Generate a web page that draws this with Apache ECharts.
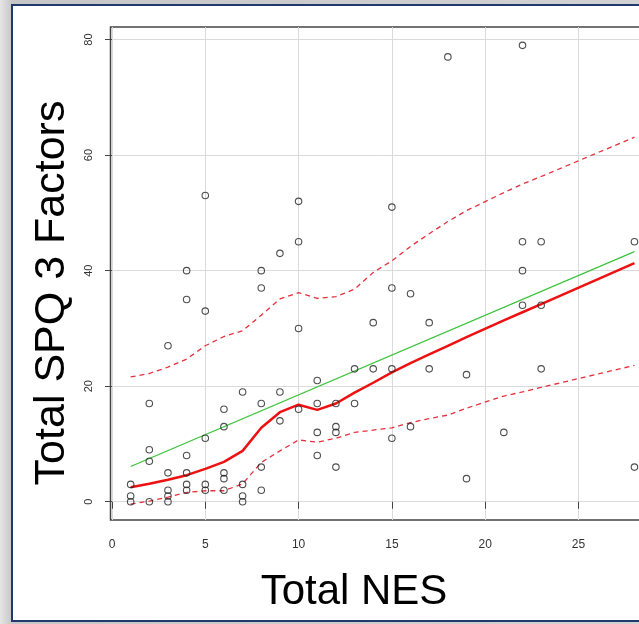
<!DOCTYPE html>
<html>
<head>
<meta charset="utf-8">
<script src="https://cdn.jsdelivr.net/npm/echarts@6/dist/echarts.min.js"></script>
<style>
  html, body { margin: 0; padding: 0; width: 639px; height: 624px; overflow: hidden;
    background: linear-gradient(to right, #e6e6e6 0px, #c6c6c6 12px, #d2d2d2 100%); }
  #frame { position: absolute; left: 11px; top: 4px; width: 700px; height: 618px;
    box-sizing: border-box; border: 2px solid #1f3a6b; background: #ffffff; }
  /* the plot runs past the right edge of the window, as the box is cut there */
  #chart { position: absolute; left: 0; top: 0; width: 700px; height: 624px; }
</style>
</head>
<body>
<div id="frame"></div>
<div id="chart"></div>
<script>
// Observations: Total NES (x) vs Total SPQ 3 Factors (y)
const nesScores = [
  1, 1, 1,
  2, 2, 2, 2,
  3, 3, 3, 3, 3,
  4, 4, 4, 4, 4, 4,
  5, 5, 5, 5, 5,
  6, 6, 6, 6, 6,
  7, 7, 7, 7,
  8, 8, 8, 8, 8,
  9, 9, 9,
  10, 10, 10, 10,
  11, 11, 11, 11,
  12, 12, 12, 12,
  13, 13,
  14, 14,
  15, 15, 15, 15,
  16, 16,
  17, 17,
  18,
  19, 19,
  21,
  22, 22, 22, 22,
  23, 23, 23,
  28, 28
];
const spqScores = [
  3, 1, 0,
  17, 9, 7, 0,
  27, 5, 2, 1, 0,
  40, 35, 8, 5, 3, 2,
  53, 33, 11, 3, 2,
  16, 13, 5, 4, 2,
  19, 3, 1, 0,
  40, 37, 17, 6, 2,
  43, 19, 14,
  52, 45, 30, 16,
  21, 17, 12, 8,
  17, 13, 12, 6,
  23, 17,
  31, 23,
  51, 37, 23, 11,
  36, 13,
  31, 23,
  77,
  22, 4,
  12,
  79, 45, 40, 34,
  45, 34, 23,
  45, 6
];

// Least-squares line endpoints
const fitX = [1, 28];
const fitY = [6.1, 43.3];

// Smoother with its spread band
const smoothX     = [1, 2, 3, 4, 5, 6, 7, 8, 9, 10, 11, 12, 13, 14, 15, 16, 17, 18, 19, 21, 22, 23, 28];
const smoothFit   = [2.5, 3.1, 3.8, 4.6, 5.7, 6.9, 8.8, 12.8, 15.5, 16.8, 15.9, 17.0, 18.9, 20.6, 22.4, 24.0, 25.5, 27.0, 28.5, 31.4, 32.8, 34.2, 41.3];
const smoothUpper = [21.6, 22.2, 23.3, 24.7, 27.0, 28.6, 29.6, 32.3, 35.1, 36.2, 35.2, 35.5, 36.8, 39.7, 41.7, 44.2, 46.4, 48.5, 50.4, 53.5, 55.0, 56.3, 63.1];
const smoothLower = [-0.4, 0.1, 0.8, 1.6, 1.9, 1.9, 3.1, 6.8, 8.8, 10.7, 10.3, 11.0, 12.0, 12.4, 12.8, 13.7, 14.4, 15.0, 16.2, 18.3, 19.0, 19.8, 23.6];

// Tick labels
const xTicks = [0, 5, 10, 15, 20, 25];
const yTicks = [0, 20, 40, 60, 80];

const pairs = (xa, ya) => xa.map((x, i) => [x, ya[i]]);

const chart = echarts.init(document.getElementById('chart'), null, { renderer: 'canvas' });

const FONT = '"Liberation Sans", Arial, sans-serif';

chart.setOption({
  backgroundColor: 'transparent',
  animation: false,
  grid: {
    left: 110.5, top: 27.1, width: 544.1, height: 492.9,
    show: true, borderColor: '#444', borderWidth: 1.5, backgroundColor: 'transparent'
  },
  xAxis: {
    type: 'value', min: -0.08, max: 29.08,
    axisLine: { show: false },
    axisTick: { show: true, inside: false, length: 7, customValues: xTicks,
      lineStyle: { color: '#444', width: 1 } },
    axisLabel: { customValues: xTicks, margin: 19, fontSize: 12, color: '#333', fontFamily: FONT },
    splitLine: { show: true, lineStyle: { color: '#dadada', width: 1 } }
  },
  yAxis: {
    type: 'value', min: -3.16, max: 82.16,
    axisLine: { show: false },
    axisTick: { show: true, inside: false, length: 7, customValues: yTicks,
      lineStyle: { color: '#444', width: 1 } },
    axisLabel: { customValues: yTicks, rotate: 90, margin: 16, fontSize: 11, color: '#333', fontFamily: FONT },
    splitLine: { show: true, lineStyle: { color: '#dadada', width: 1 } }
  },
  graphic: [
    { type: 'text', x: 354, y: 592,
      style: { text: 'Total NES', x: 0, y: 0,
        font: '42px ' + FONT, fill: '#000', align: 'center', verticalAlign: 'middle' } },
    { type: 'text', x: 52, y: 293, rotation: Math.PI / 2,
      style: { text: 'Total SPQ 3 Factors', x: 0, y: 0,
        font: '43px ' + FONT, fill: '#000', align: 'center', verticalAlign: 'middle' } }
  ],
  series: [
    {
      type: 'line', data: pairs(smoothX, smoothUpper), showSymbol: false, z: 3,
      lineStyle: { color: '#e8303c', width: 1.3, type: [5, 4] }
    },
    {
      type: 'line', data: pairs(smoothX, smoothLower), showSymbol: false, z: 3,
      lineStyle: { color: '#e8303c', width: 1.3, type: [5, 4] }
    },
    {
      type: 'line', data: pairs(fitX, fitY), showSymbol: false, z: 4,
      lineStyle: { color: '#3cc43c', width: 1.3 }
    },
    {
      type: 'line', data: pairs(smoothX, smoothFit), showSymbol: false, z: 5,
      lineStyle: { color: '#ee1111', width: 2.5 }
    },
    {
      type: 'scatter', data: pairs(nesScores, spqScores), symbol: 'circle', symbolSize: 6.5, z: 6,
      itemStyle: { color: 'rgba(255,255,255,0)', borderColor: '#222', borderWidth: 1.1 }
    }
  ]
});
</script>
</body>
</html>
